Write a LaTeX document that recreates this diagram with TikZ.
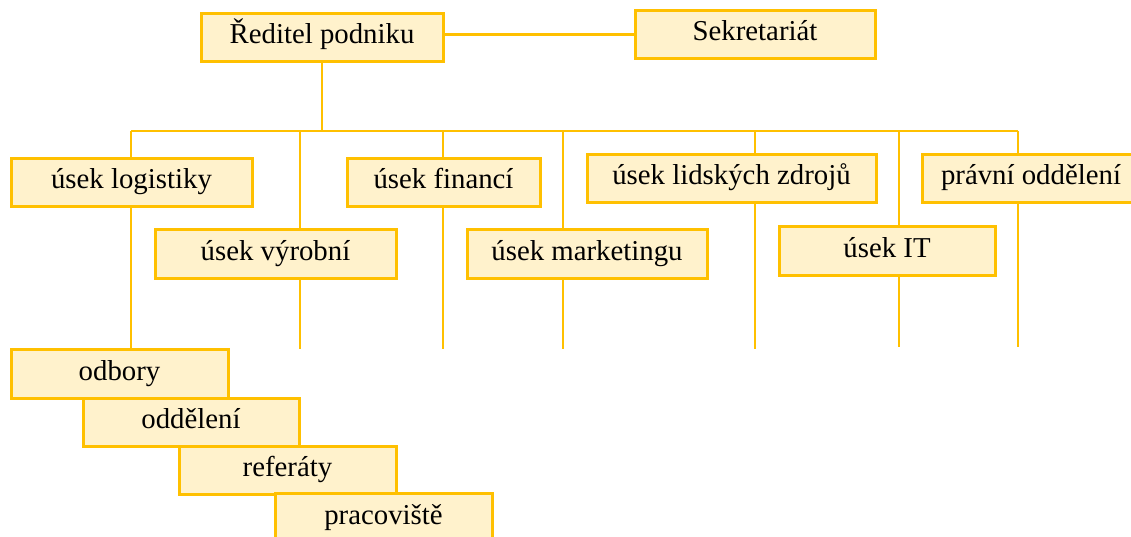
\documentclass[tikz,border=0pt]{standalone}
\usepackage{fontspec}
\setmainfont{Liberation Serif}
\usetikzlibrary{backgrounds}
\definecolor{gold}{HTML}{FFC000}
\definecolor{cream}{HTML}{FFF2CC}
\begin{document}
\begin{tikzpicture}[x=1pt,y=-1pt,
  box/.style={draw=gold, fill=cream, line width=3pt, inner sep=0pt,
    minimum height=48.5pt, text height=20pt, text depth=7.5pt,
    font=\fontsize{28.8}{34}\selectfont},
  wire/.style={draw=gold, line width=2.4pt}]
\useasboundingbox (0,0) rectangle (1131,537);

% top level
\node[box, minimum width=242pt] (red)  at (322,37.5)  {Ředitel podniku};
\node[box, minimum width=240pt] (sekr) at (755,34.5)  {Sekretariát};

% divisions, first row
\node[box, minimum width=241pt] (log)  at (131.5,182.5) {úsek logistiky};
\node[box, minimum width=193pt] (fin)  at (443.5,182.5) {úsek financí};
\node[box, minimum width=289pt] (lid)  at (731.5,178.5) {úsek lidských zdrojů};
\node[box, minimum width=218pt] (prav) at (1031,178.5)  {právní oddělení};

% divisions, second row
\node[box, minimum width=241pt] (vyr)  at (275.5,254) {úsek výrobní};
\node[box, minimum width=240pt] (mkt)  at (587,254)   {úsek marketingu};
\node[box, minimum width=216pt] (it)   at (887,251)   {úsek IT};

% lower levels
\node[box, minimum width=217pt] (odb)  at (119.5,374)  {odbory};
\node[box, minimum width=216pt] (odd)  at (191,422.5)  {oddělení};
\node[box, minimum width=217pt] (ref)  at (287.5,470.5) {referáty};
\node[box, minimum width=217pt] (pra)  at (383.5,518)  {pracoviště};

% bus ends and free ends of the drop lines
\coordinate (busL) at (131,131);
\coordinate (busR) at (1018,131);
\coordinate (eVyr) at (300,349);
\coordinate (eFin) at (443,349);
\coordinate (eMkt) at (563,349);
\coordinate (eLid) at (755,349);
\coordinate (eIT)  at (899,347);
\coordinate (ePrav) at (1018,347);

\begin{scope}[on background layer]
  \draw[wire] (red.east |- sekr.west) -- (sekr.west);
  \draw[wire] (red.south) -- (red.south |- busL);
  \draw[wire] (busL) -- (busR);
  \draw[wire] (busL) -- (odb.north -| busL);
  \draw[wire] (eVyr |- busL) -- (eVyr);
  \draw[wire] (eFin |- busL) -- (eFin);
  \draw[wire] (eMkt |- busL) -- (eMkt);
  \draw[wire] (eLid |- busL) -- (eLid);
  \draw[wire] (eIT |- busL) -- (eIT);
  \draw[wire] (ePrav |- busL) -- (ePrav);
\end{scope}
\end{tikzpicture}
\end{document}
